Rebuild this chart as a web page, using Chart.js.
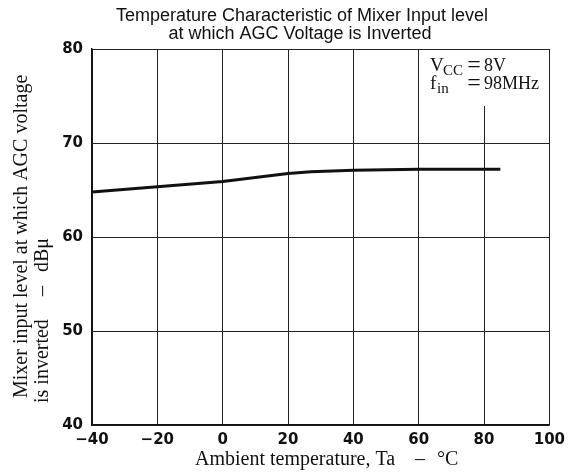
<!DOCTYPE html>
<html>
<head>
<meta charset="utf-8">
<script src="https://cdn.jsdelivr.net/npm/chart.js@4.4.1/dist/chart.umd.min.js"></script>
<style>
  html, body { margin: 0; padding: 0; background: #fff; }
  #wrap { width: 571px; height: 473px; position: relative; }
</style>
</head>
<body>
<div id="wrap"><canvas id="c" width="571" height="473"></canvas></div>
<script>
// Ambient temperature (°C) and mixer input level at AGC inversion (dBμ)
const temperatures = [-40, -20, 0, 20, 27, 40, 60, 85];
const inputLevels = [64.8, 65.35, 65.9, 66.75, 66.95, 67.1, 67.2, 67.2];

const xTicks = [-40, -20, 0, 20, 40, 60, 80, 100];
const yTicks = [40, 50, 60, 70, 80];

const titleLines = ['Temperature Characteristic of Mixer Input level', 'at which AGC Voltage is Inverted'];
const xTitleParts = ['Ambient temperature, Ta', '\u2013', '\u00B0C'];
const yTitleLine1 = 'Mixer input level at which AGC voltage';
const yTitleLine2Parts = ['is inverted', '\u2013', 'dB\u03BC'];

const SERIF = '"Liberation Serif", "DejaVu Serif", serif';
const SANS = '"Liberation Sans", Arial, sans-serif';

// Title, axis titles and the operating-condition note
const textPlugin = {
  id: 'texts',
  beforeDatasetsDraw(chart) {
    const ctx = chart.ctx, a = chart.chartArea;
    ctx.save();
    ctx.fillStyle = '#fff';
    ctx.fillRect(427, a.top + 1, a.right - 428, 105 - a.top);
    ctx.restore();
  },
  afterDraw(chart) {
    const ctx = chart.ctx;
    ctx.save();
    ctx.fillStyle = '#111';
    ctx.textBaseline = 'alphabetic';

    // chart title
    ctx.textAlign = 'center';
    ctx.font = '18px ' + SANS;
    ctx.fillText(titleLines[0], 302, 21);
    ctx.fillText(titleLines[1], 300, 39);

    // x axis title
    ctx.font = '20px ' + SERIF;
    ctx.textAlign = 'left';
    ctx.fillText(xTitleParts[0], 195, 465);
    ctx.textAlign = 'center';
    ctx.fillText(xTitleParts[1], 420, 465);
    ctx.textAlign = 'left';
    ctx.fillText(xTitleParts[2], 437, 465);

    // y axis title (two rotated lines)
    ctx.save();
    ctx.rotate(-Math.PI / 2);
    ctx.font = '20px ' + SERIF;
    ctx.textAlign = 'left';
    ctx.fillText(yTitleLine1, -398, 27);
    ctx.fillText(yTitleLine2Parts[0], -403, 48);
    ctx.textAlign = 'center';
    ctx.fillText(yTitleLine2Parts[1], -291, 48);
    ctx.textAlign = 'right';
    ctx.fillText(yTitleLine2Parts[2], -238, 48);
    ctx.restore();

    // operating conditions: VCC = 8V, fin = 98MHz
    const big = '19px ' + SERIF, small = '15px ' + SERIF, eq = '24px ' + SERIF;
    ctx.textAlign = 'left';
    ctx.font = big; ctx.fillText('V', 430, 71);
    ctx.font = small; ctx.fillText('CC', 443, 75);
    ctx.font = eq; ctx.textAlign = 'center'; ctx.fillText('=', 474, 72);
    ctx.font = '18px ' + SERIF; ctx.textAlign = 'left'; ctx.fillText('8V', 484, 71);

    ctx.font = big; ctx.fillText('f', 430, 89);
    ctx.font = small; ctx.fillText('in', 437, 93);
    ctx.font = eq; ctx.textAlign = 'center'; ctx.fillText('=', 474, 90);
    ctx.font = '18px ' + SERIF; ctx.textAlign = 'left'; ctx.fillText('98MHz', 484, 89);
    ctx.restore();
  }
};

new Chart(document.getElementById('c'), {
  type: 'line',
  data: {
    datasets: [{
      data: temperatures.map((t, i) => ({ x: t, y: inputLevels[i] })),
      borderColor: '#111',
      borderWidth: 3,
      pointRadius: 0,
      tension: 0,
      fill: false
    }]
  },
  options: {
    responsive: false,
    animation: false,
    layout: { padding: { left: 0, right: 18, top: 49, bottom: 0 } },
    plugins: { legend: { display: false }, tooltip: { enabled: false }, title: { display: false } },
    scales: {
      x: {
        type: 'linear',
        min: -40, max: 100,
        afterBuildTicks: s => { s.ticks = xTicks.map(v => ({ value: v })); },
        afterFit: s => { s.height = 48; },
        grid: { color: '#222', lineWidth: 1, drawTicks: false },
        border: { color: '#111', width: 1.5 },
        ticks: {
          padding: 6,
          color: '#111',
          font: { family: '"DejaVu Sans", sans-serif', weight: 'bold', size: 15 },
          callback: v => (v < 0 ? '\u2212' + Math.abs(v) : String(v)),
          maxRotation: 0
        }
      },
      y: {
        min: 40, max: 80,
        afterBuildTicks: s => { s.ticks = yTicks.map(v => ({ value: v })); },
        afterFit: s => { s.width = 92; },
        grid: { color: '#222', lineWidth: 1, drawTicks: false },
        border: { color: '#111', width: 1.5 },
        ticks: {
          padding: 9,
          color: '#111',
          font: { family: '"DejaVu Sans", sans-serif', weight: 'bold', size: 15 }
        }
      }
    }
  },
  plugins: [textPlugin]
});
</script>
</body>
</html>
